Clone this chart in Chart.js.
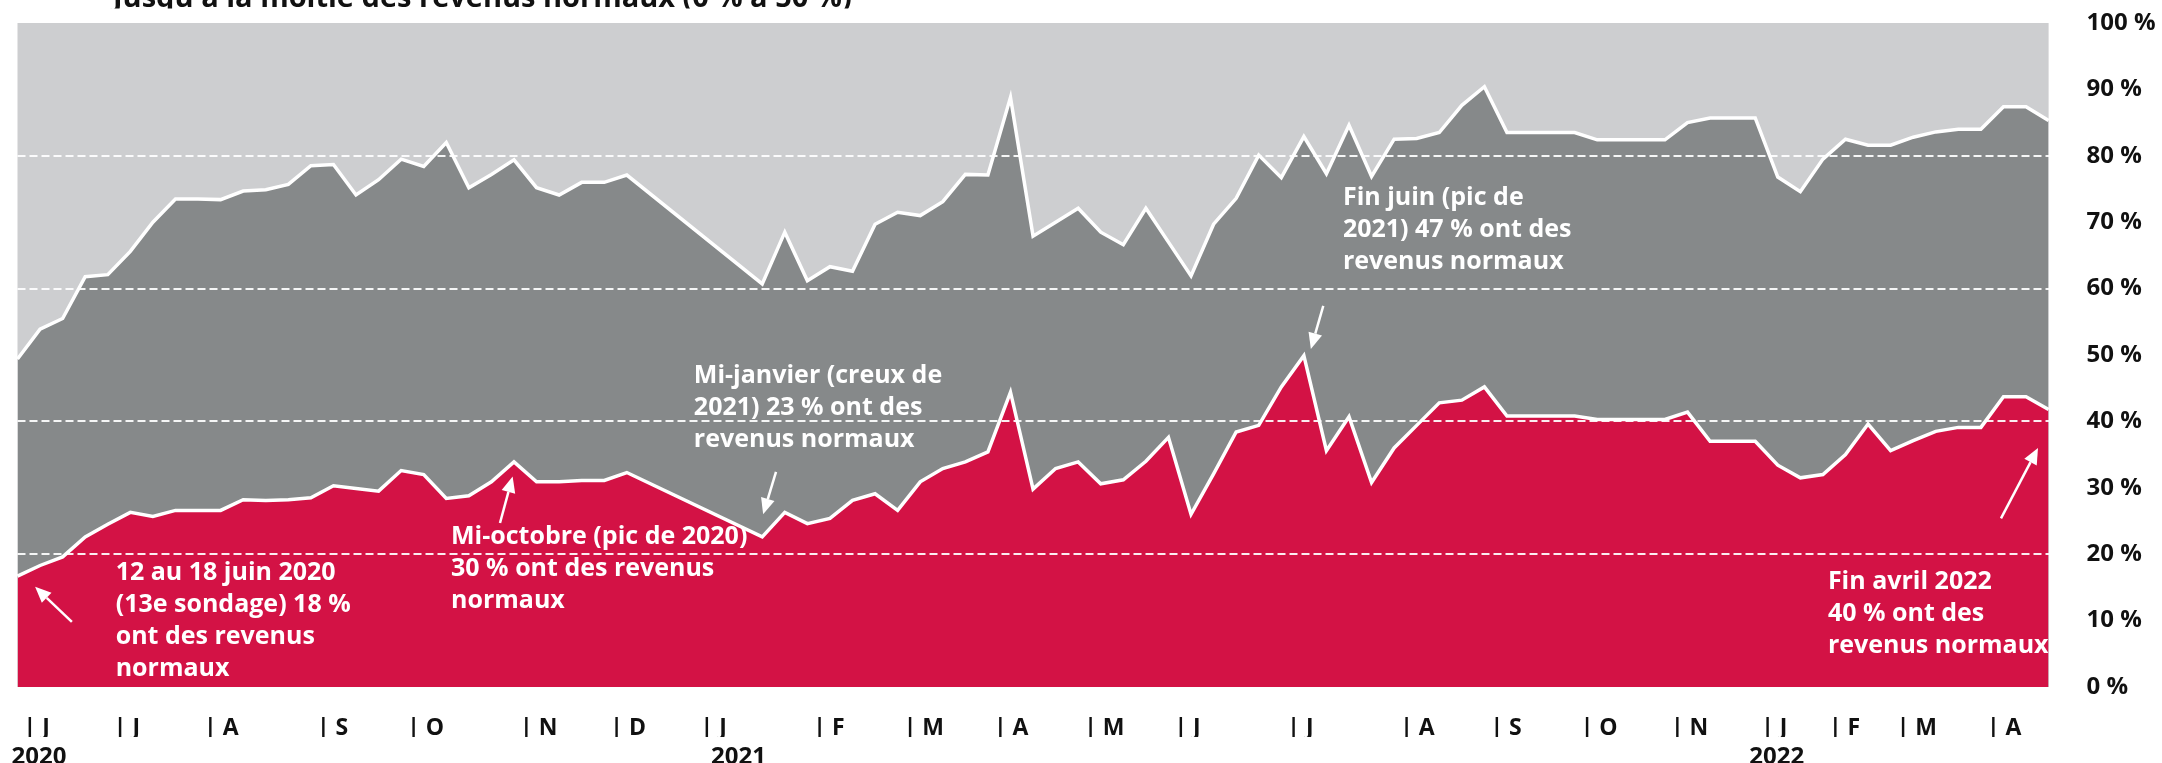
<!DOCTYPE html>
<html lang="fr">
<head>
<meta charset="utf-8">
<title>Revenus normaux</title>
<script src="https://cdn.jsdelivr.net/npm/chart.js@4/dist/chart.umd.min.js"></script>
<style>
  html, body { margin: 0; padding: 0; background: #ffffff; }
  #wrap { width: 2162px; height: 763px; }
</style>
</head>
<body>
<div id="wrap"><canvas id="c" width="2162" height="763"></canvas></div>
<script>
// ---- DATA ----
// survey points (weekly / bi-weekly surveys), 91 categories
const surveys = Array.from({ length: 91 }, (_, i) => 'S' + (i + 13));

// share with normal income (boundary red / dark grey), %
const revenusNormaux = [
  16.7, 18.3, 19.6, 22.6, 24.5, 26.3, 25.7, 26.6, 26.6, 26.6,
  28.2, 28.1, 28.2, 28.5, 30.3, 29.9, 29.5, 32.6, 32.0, 28.4,
  28.8, 30.9, 33.9, 30.9, 30.9, 31.1, 31.1, 32.3, null, null,
  null, null, null, 22.6, 26.3, 24.6, 25.4, 28.1, 29.1, 26.6,
  30.9, 32.9, 33.9, 35.4, 44.4, 29.8, 32.9, 33.9, 30.6, 31.2,
  34.0, 37.6, 26.0, 32.1, 38.4, 39.4, 45.2, 49.9, 35.6, 40.7,
  30.8, 36.0, 39.4, 42.8, 43.2, 45.2, 40.8, 40.8, 40.8, 40.8,
  40.3, 40.3, 40.3, 40.3, 41.4, 37.0, 37.0, 37.0, 33.4, 31.5,
  32.0, 35.0, 39.6, 35.6, 37.1, 38.5, 39.1, 39.1, 43.7, 43.7,
  41.8
];

// cumulative share: normal income + more than half (boundary dark grey / light grey), %
const plusDeLaMoitieCumul = [
  49.4, 53.9, 55.5, 61.8, 62.1, 65.6, 70.0, 73.5, 73.5, 73.4,
  74.7, 74.9, 75.7, 78.5, 78.7, 74.1, 76.4, 79.5, 78.4, 82.0,
  75.2, 77.2, 79.4, 75.2, 74.1, 76.0, 76.0, 77.1, null, null,
  null, null, null, 60.7, 68.5, 61.2, 63.3, 62.6, 69.7, 71.5,
  71.0, 73.1, 77.2, 77.1, 88.8, 67.9, 70.0, 72.1, 68.5, 66.6,
  72.1, 67.0, 61.9, 69.7, 73.6, 80.1, 76.7, 82.9, 77.3, 84.6,
  76.9, 82.5, 82.6, 83.5, 87.6, 90.4, 83.5, 83.5, 83.5, 83.5,
  82.4, 82.4, 82.4, 82.4, 85.0, 85.7, 85.7, 85.7, 76.8, 74.6,
  79.5, 82.5, 81.6, 81.6, 82.8, 83.6, 84.0, 84.0, 87.4, 87.4,
  85.3
];

// x tick labels
const monthTickIdx  = [0, 4, 8, 13, 17, 22, 26, 30, 35, 39, 43, 47, 51, 56, 61, 65, 69, 73, 77, 80, 83, 87];
const monthTickText = ['J','J','A','S','O','N','D','J','F','M','A','M','J','J','A','S','O','N','J','F','M','A'];
const yearTickIdx   = [0, 31, 77];
const yearTickText  = ['2020', '2021', '2022'];

// y tick labels
const yTickValues = [0, 10, 20, 30, 40, 50, 60, 70, 80, 90, 100];
const yGridValues = [20, 40, 60, 80];

const titleText = "Jusqu'à la moitié des revenus normaux (0 % à 50 %)";

// annotations (anchored in data coordinates: category index, %)
const annotations = [
  { lines: ['12 au 18 juin 2020', '(13e sondage) 18 %', 'ont des revenus', 'normaux'],
    at: [4.35, 17.2], tail: [2.41, 9.8], tip: [0.78, 15.1] },
  { lines: ['Mi-octobre (pic de 2020)', '30 % ont des revenus', 'normaux'],
    at: [19.21, 22.6], tail: [21.38, 24.7], tip: [21.94, 31.7] },
  { lines: ['Mi-janvier (creux de', '2021) 23 % ont des', 'revenus normaux'],
    at: [29.97, 46.8], tail: [33.61, 32.4], tip: [33.04, 26.0] },
  { lines: ['Fin juin (pic de', '2021) 47 % ont des', 'revenus normaux'],
    at: [58.73, 73.7], tail: [57.86, 57.4], tip: [57.31, 50.9] },
  { lines: ['Fin avril 2022', '40 % ont des', 'revenus normaux'],
    at: [80.22, 15.9], tail: [87.89, 25.4], tip: [89.53, 36.0] }
];

// ---- STYLE ----
const RED = 'rgb(211,18,69)';
const DARK = 'rgb(134,137,138)';
const LIGHT = 'rgb(205,206,208)';
const FONT = "'Open Sans', 'Noto Sans', sans-serif";

const plotBg = {
  id: 'plotBg',
  beforeDatasetsDraw(chart) {
    const { ctx, chartArea: a } = chart;
    ctx.save();
    ctx.fillStyle = LIGHT;
    ctx.fillRect(a.left, a.top, a.right - a.left, a.bottom - a.top);
    ctx.restore();
  }
};

function drawArrow(ctx, x1, y1, x2, y2) {
  const ang = Math.atan2(y2 - y1, x2 - x1);
  const hl = 16, hw = 7;
  const bx = x2 - hl * Math.cos(ang), by = y2 - hl * Math.sin(ang);
  ctx.beginPath();
  ctx.moveTo(x1, y1);
  ctx.lineTo(bx, by);
  ctx.stroke();
  ctx.beginPath();
  ctx.moveTo(x2, y2);
  ctx.lineTo(bx + hw * Math.sin(ang), by - hw * Math.cos(ang));
  ctx.lineTo(bx - hw * Math.sin(ang), by + hw * Math.cos(ang));
  ctx.closePath();
  ctx.fill();
}

const notes = {
  id: 'notes',
  afterDraw(chart) {
    const { ctx } = chart;
    const xs = chart.scales.x, ys = chart.scales.y;
    // title fragment (cut at the top and bottom, as in the source)
    ctx.save();
    ctx.beginPath();
    ctx.rect(0, 0, chart.width, 8.5);
    ctx.clip();
    ctx.fillStyle = '#111';
    ctx.font = 'bold 29px ' + FONT;
    ctx.textBaseline = 'alphabetic';
    ctx.textAlign = 'left';
    ctx.fillText(titleText, 113, 6.5);
    ctx.restore();
    // annotations
    ctx.save();
    ctx.fillStyle = '#ffffff';
    ctx.strokeStyle = '#ffffff';
    ctx.lineWidth = 2.5;
    ctx.font = 'bold 25px ' + FONT;
    ctx.textBaseline = 'middle';
    ctx.textAlign = 'left';
    annotations.forEach(a => {
      const x = xs.getPixelForValue(a.at[0]);
      const y = ys.getPixelForValue(a.at[1]);
      a.lines.forEach((t, k) => ctx.fillText(t, x, y + k * 32));
      drawArrow(ctx,
        xs.getPixelForValue(a.tail[0]), ys.getPixelForValue(a.tail[1]),
        xs.getPixelForValue(a.tip[0]), ys.getPixelForValue(a.tip[1]));
    });
    ctx.restore();
  }
};

new Chart(document.getElementById('c'), {
  type: 'line',
  data: {
    labels: surveys,
    datasets: [
      {
        label: 'Revenus normaux',
        data: revenusNormaux,
        borderColor: '#ffffff',
        borderWidth: 3.5,
        backgroundColor: RED,
        fill: 'origin',
        pointRadius: 0,
        tension: 0,
        spanGaps: true,
        borderJoinStyle: 'miter'
      },
      {
        label: 'Plus de la moitié des revenus normaux (cumul)',
        data: plusDeLaMoitieCumul,
        borderColor: '#ffffff',
        borderWidth: 3.5,
        backgroundColor: DARK,
        fill: 'origin',
        pointRadius: 0,
        tension: 0,
        spanGaps: true,
        borderJoinStyle: 'miter'
      }
    ]
  },
  options: {
    responsive: false,
    animation: false,
    devicePixelRatio: 1,
    layout: { padding: { left: 17.5, top: 23, right: 0, bottom: 0 } },
    plugins: {
      legend: { display: false },
      tooltip: { enabled: false },
      title: { display: false }
    },
    scales: {
      x: {
        type: 'category',
        position: 'bottom',
        offset: false,
        grid: { display: false },
        border: { display: false },
        ticks: {
          autoSkip: false,
          maxRotation: 0,
          minRotation: 0,
          align: 'start',
          labelOffset: 6,
          padding: 22,
          color: '#111',
          font: { family: FONT, size: 23, weight: 'bold', lineHeight: 1 },
          callback: (v, i) => {
            const k = monthTickIdx.indexOf(i);
            return k >= 0 ? '| ' + monthTickText[k] : '';
          }
        },
        afterFit: s => { s.height = 50; s.paddingLeft = 0; s.paddingRight = 0; }
      },
      xYear: {
        type: 'category',
        position: 'bottom',
        offset: false,
        grid: { display: false },
        border: { display: false },
        ticks: {
          autoSkip: false,
          maxRotation: 0,
          minRotation: 0,
          align: 'start',
          labelOffset: -6,
          padding: 0,
          color: '#111',
          font: { family: FONT, size: 24, weight: 'bold', lineHeight: 1 },
          callback: (v, i) => {
            const k = yearTickIdx.indexOf(i);
            return k >= 0 ? yearTickText[k] : '';
          }
        },
        afterFit: s => { s.height = 26; s.paddingLeft = 0; s.paddingRight = 0; }
      },
      y: {
        position: 'right',
        min: 0,
        max: 100,
        border: { display: false, dash: [8, 4] },
        grid: {
          z: 1,
          drawTicks: false,
          lineWidth: 2,
          color: c => (c.tick && yGridValues.includes(Math.round(c.tick.value))) ? 'rgba(255,255,255,0.92)' : 'rgba(0,0,0,0)'
        },
        ticks: {
          stepSize: 10,
          padding: 38,
          color: '#111',
          font: { family: FONT, size: 24, weight: 'bold' },
          callback: v => yTickValues.includes(v) ? v + ' %' : ''
        },
        afterFit: s => { s.width = 113.4; s.paddingTop = 0; s.paddingBottom = 0; }
      }
    }
  },
  plugins: [plotBg, notes]
});
</script>
</body>
</html>
